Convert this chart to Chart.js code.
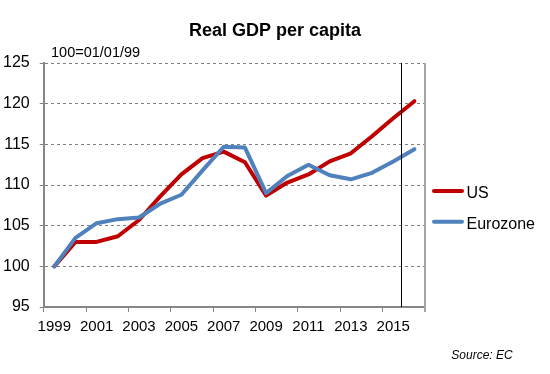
<!DOCTYPE html>
<html>
<head>
<meta charset="UTF-8">
<title>Real GDP per capita</title>
<script src="https://cdn.jsdelivr.net/npm/chart.js"></script>
<style>
  html, body { margin: 0; padding: 0; background: #fff; }
  #wrap { width: 550px; height: 374px; }
</style>
</head>
<body>
<div id="wrap"><canvas id="gdpChart" width="550" height="374"></canvas></div>
<script>
// data (index, 100 = 01/01/99)
const years = ['1999', '2000', '2001', '2002', '2003', '2004', '2005', '2006', '2007',
               '2008', '2009', '2010', '2011', '2012', '2013', '2014', '2015', '2016'];
const usValues = [100, 103.0, 103.0, 103.7, 105.7, 108.6, 111.3, 113.3, 114.1,
                  112.8, 108.7, 110.3, 111.3, 112.9, 113.9, 116.0, 118.2, 120.3];
const euroValues = [100, 103.5, 105.3, 105.8, 106.0, 107.7, 108.8, 111.8, 114.7,
                    114.6, 109.0, 111.1, 112.5, 111.2, 110.7, 111.5, 112.9, 114.4];
const forecastAt = 16.36;   // divider between actual and forecast (category index)

const FONT = '"Liberation Sans", Arial, sans-serif';
const GREY = '#868686';

const extras = {
    id: 'extras',
    afterDraw(chart) {
        const ctx = chart.ctx;
        const area = chart.chartArea;
        const x = chart.scales.x;
        ctx.save();

        // right border of plot area
        ctx.strokeStyle = '#a6a6a6';
        ctx.lineWidth = 2;
        ctx.beginPath();
        ctx.moveTo(area.right, area.top);
        ctx.lineTo(area.right, area.bottom + 5);
        ctx.stroke();

        // forecast divider
        const fx = Math.round(x.getPixelForValue(forecastAt)) + 0.5;
        ctx.strokeStyle = '#000';
        ctx.lineWidth = 1;
        ctx.beginPath();
        ctx.moveTo(fx, area.top);
        ctx.lineTo(fx, area.bottom);
        ctx.stroke();

        // texts
        ctx.fillStyle = '#000';
        ctx.textBaseline = 'alphabetic';
        ctx.textAlign = 'center';
        ctx.font = 'bold 18px ' + FONT;
        ctx.fillText('Real GDP per capita', 275, 36);

        ctx.textAlign = 'left';
        ctx.font = '14.5px ' + FONT;
        ctx.fillText('100=01/01/99', 51, 56.5);

        ctx.textAlign = 'center';
        ctx.font = 'italic 12px ' + FONT;
        ctx.fillText('Source: EC', 482, 359);

        // legend
        ctx.textAlign = 'left';
        ctx.font = '16px ' + FONT;
        ctx.lineCap = 'round';
        const rows = [191, 221.7];
        chart.data.datasets.forEach((ds, i) => {
            const y = rows[i];
            ctx.strokeStyle = ds.borderColor;
            ctx.lineWidth = 4;
            ctx.beginPath();
            ctx.moveTo(434, y);
            ctx.lineTo(462, y);
            ctx.stroke();
            ctx.fillText(ds.label, 466.5, y + 7.3);
        });
        ctx.restore();
    }
};

new Chart(document.getElementById('gdpChart'), {
    type: 'line',
    data: {
        labels: years,
        datasets: [{
            label: 'US',
            data: usValues,
            borderColor: '#C00000',
            backgroundColor: '#C00000',
            borderWidth: 4,
            order: 2
        }, {
            label: 'Eurozone',
            data: euroValues,
            borderColor: '#4F81BD',
            backgroundColor: '#4F81BD',
            borderWidth: 4,
            order: 1
        }]
    },
    options: {
        responsive: false,
        animation: false,
        devicePixelRatio: 1,
        layout: { padding: { left: -7, top: 63, right: 125, bottom: 37 } },
        elements: {
            point: { radius: 0 },
            line: { tension: 0, borderJoinStyle: 'round', borderCapStyle: 'round' }
        },
        plugins: {
            legend: { display: false },
            title: { display: false },
            tooltip: { enabled: false }
        },
        scales: {
            x: {
                offset: true,
                afterFit(scale) { scale.height = 30; },
                border: { color: GREY, width: 2 },
                grid: {
                    offset: true,
                    drawOnChartArea: false,
                    tickLength: 5,
                    color: c => (c.index % 2 === 0 ? GREY : 'rgba(0,0,0,0)')
                },
                ticks: {
                    autoSkip: false,
                    maxRotation: 0,
                    padding: 6,
                    color: '#000',
                    font: { family: FONT, size: 15 },
                    callback: (v, i) => (i % 2 === 0 ? years[i] : '')
                }
            },
            y: {
                type: 'linear',
                position: 'left',
                min: 95,
                max: 125,
                border: { color: GREY, width: 2, dash: [3, 3] },
                grid: {
                    lineWidth: 1,
                    tickLength: 4,
                    color: c => (c.tick && c.tick.value === 95 ? 'rgba(0,0,0,0)' : '#7f7f7f'),
                    tickColor: GREY
                },
                ticks: {
                    stepSize: 5,
                    padding: 10,
                    color: '#000',
                    font: { family: FONT, size: 16 }
                }
            }
        }
    },
    plugins: [extras]
});
</script>
</body>
</html>
